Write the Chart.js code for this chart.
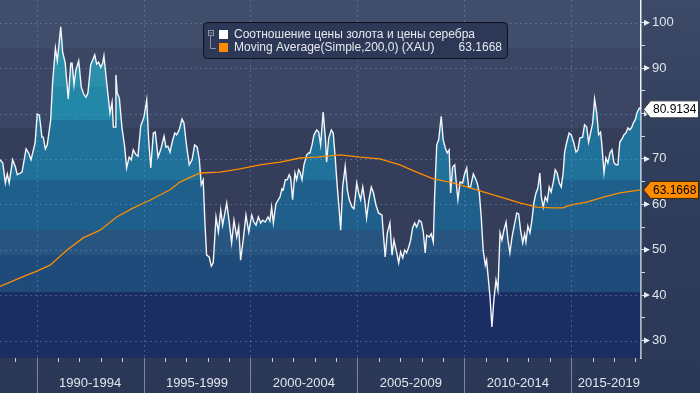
<!DOCTYPE html>
<html>
<head>
<meta charset="utf-8">
<script src="https://cdn.jsdelivr.net/npm/chart.js@4/dist/chart.umd.min.js"></script>
<style>
  html, body { margin: 0; padding: 0; background: #2c3957; }
  canvas { display: block; }
</style>
</head>
<body>
<canvas id="chart" width="700" height="393"></canvas>
<script>
// gold / silver price ratio (decimal years)
const years = [
  1988.29, 1988.42, 1988.54, 1988.63, 1988.72, 1988.88, 1989.01, 1989.10, 1989.32, 1989.51, 1989.63, 1989.74, 1989.93,
  1990.03, 1990.13, 1990.25, 1990.31, 1990.41, 1990.50, 1990.66, 1990.75, 1990.88, 1990.97,
  1991.13, 1991.22, 1991.34, 1991.48, 1991.60, 1991.66, 1991.75, 1991.84, 1991.97,
  1992.09, 1992.22, 1992.31, 1992.40, 1992.53, 1992.72, 1992.81, 1992.90,
  1993.00, 1993.09, 1993.15, 1993.28, 1993.43, 1993.53, 1993.59, 1993.68, 1993.71, 1993.77, 1993.87, 1993.99,
  1994.12, 1994.21, 1994.33, 1994.43, 1994.52, 1994.65, 1994.74, 1994.87,
  1995.02, 1995.15, 1995.24, 1995.34, 1995.46, 1995.55, 1995.68, 1995.80, 1995.96,
  1996.05, 1996.14, 1996.24, 1996.33, 1996.46, 1996.55, 1996.67, 1996.80, 1996.89,
  1997.02, 1997.14, 1997.27, 1997.39, 1997.51, 1997.61, 1997.70, 1997.79, 1997.87, 1997.95,
  1998.07, 1998.17, 1998.26, 1998.39, 1998.50, 1998.61, 1998.70, 1998.89,
  1999.01, 1999.12, 1999.23, 1999.36, 1999.45, 1999.54, 1999.66, 1999.79, 1999.92,
  2000.06, 2000.16, 2000.26, 2000.37, 2000.48, 2000.57, 2000.69, 2000.82, 2000.91, 2000.99,
  2001.07, 2001.19, 2001.30, 2001.38, 2001.47, 2001.53, 2001.63, 2001.72, 2001.81, 2001.88, 2001.97,
  2002.08, 2002.16, 2002.25, 2002.32, 2002.41, 2002.50, 2002.63, 2002.72, 2002.78, 2002.88, 2002.97,
  2003.10, 2003.19, 2003.28, 2003.40, 2003.50, 2003.56, 2003.66, 2003.78, 2003.87, 2003.96,
  2004.06, 2004.15, 2004.22, 2004.31, 2004.43, 2004.53, 2004.62, 2004.75, 2004.84, 2004.97,
  2005.06, 2005.15, 2005.25, 2005.34, 2005.43, 2005.53, 2005.65, 2005.74, 2005.87, 2005.99,
  2006.15, 2006.21, 2006.30, 2006.40, 2006.52, 2006.62, 2006.71, 2006.84, 2006.93,
  2007.02, 2007.12, 2007.21, 2007.30, 2007.40, 2007.49, 2007.58, 2007.68, 2007.77, 2007.89, 2007.99,
  2008.08, 2008.17, 2008.24, 2008.36, 2008.45, 2008.55, 2008.61, 2008.71, 2008.80, 2008.92,
  2009.01, 2009.11, 2009.20, 2009.29, 2009.36, 2009.45, 2009.55, 2009.64, 2009.70, 2009.80, 2009.92,
  2010.01, 2010.11, 2010.20, 2010.29, 2010.42, 2010.51, 2010.60, 2010.70, 2010.79, 2010.88, 2010.98,
  2011.04, 2011.14, 2011.20, 2011.29, 2011.38, 2011.48, 2011.57, 2011.67, 2011.76, 2011.85, 2011.95,
  2012.04, 2012.13, 2012.23, 2012.32, 2012.45, 2012.54, 2012.63, 2012.73, 2012.82, 2012.88, 2012.97,
  2013.07, 2013.16, 2013.25, 2013.35, 2013.44, 2013.53, 2013.60, 2013.69, 2013.78, 2013.88, 2013.97,
  2014.06, 2014.16, 2014.25, 2014.34, 2014.44, 2014.53, 2014.62, 2014.69, 2014.78, 2014.90,
  2015.00, 2015.12, 2015.22, 2015.31, 2015.40, 2015.53, 2015.62, 2015.72, 2015.81, 2015.91,
  2016.00, 2016.09, 2016.19, 2016.28, 2016.37, 2016.43, 2016.53, 2016.62, 2016.71, 2016.81, 2016.90,
  2017.00, 2017.09, 2017.18, 2017.27, 2017.37, 2017.46, 2017.55, 2017.65, 2017.74, 2017.83, 2017.90, 2017.99,
  2018.08, 2018.18, 2018.24
]
const ratio = [
  69.8, 69.1, 64.7, 66.7, 64.7, 69.8, 68.2, 66.5, 67.1, 72.2, 71.3, 69.8, 73.5,
  79.9, 79.7, 74.8, 74.8, 72.2, 73.1, 78.6, 86.9, 94.4, 91.6,
  99.1, 93.5, 91.1, 83.2, 91.1, 91.1, 86.3, 89.6, 91.6,
  85.8, 84.1, 83.6, 84.5, 90.7, 92.9, 90.9, 91.3,
  90.2, 91.1, 92.7, 86.7, 80.1, 82.5, 77.0, 77.0, 88.5, 84.5, 83.4, 77.0,
  72.6, 68.0, 70.4, 69.8, 72.0, 70.9, 70.6, 77.2,
  79.2, 83.0, 74.2, 68.0, 75.7, 75.9, 70.4, 72.0, 75.0,
  72.6, 72.8, 71.5, 73.5, 75.7, 75.3, 76.4, 78.8, 77.9,
  72.6, 68.7, 69.8, 73.1, 72.6, 69.8, 64.3, 65.4, 56.1, 48.8,
  48.4, 46.4, 47.1, 57.2, 53.9, 58.7, 55.4, 60.3,
  55.9, 51.5, 56.5, 52.8, 55.0, 47.7, 52.1, 57.6, 53.9,
  57.6, 56.1, 55.4, 57.2, 55.9, 56.5, 56.1, 57.2, 56.3, 59.4,
  55.9, 60.1, 61.0, 61.6, 63.4, 63.2, 65.4, 65.4, 66.5, 65.8, 61.0,
  66.9, 65.4, 67.6, 67.1, 65.4, 68.7, 70.9, 71.3, 71.3, 73.1, 75.3,
  76.4, 75.9, 73.1, 80.3, 74.8, 69.3, 74.6, 76.4, 75.7, 70.4,
  63.8, 58.7, 54.3, 63.8, 68.4, 63.2, 61.0, 59.4, 59.0, 64.7,
  62.5, 61.0, 63.8, 61.0, 57.0, 60.7, 63.8, 62.7, 59.8, 58.1,
  57.6, 53.7, 48.4, 53.7, 55.9, 48.8, 52.1, 49.3, 47.1,
  49.5, 48.2, 49.9, 49.3, 50.6, 52.1, 54.8, 55.9, 55.0, 56.5, 56.1,
  53.9, 49.3, 53.2, 52.8, 53.5, 51.7, 61.6, 73.1, 74.2, 79.4,
  74.2, 72.4, 71.3, 72.0, 62.5, 68.2, 68.7, 63.8, 61.0, 64.9, 64.7,
  66.7, 68.0, 63.8, 63.8, 66.7, 65.8, 64.7, 62.5, 57.2, 49.9, 46.6,
  47.7, 42.7, 39.6, 33.0, 38.9, 43.3, 41.1, 53.7, 52.1, 54.3, 56.1,
  52.1, 49.3, 52.8, 55.0, 58.1, 57.9, 54.3, 51.5, 53.5, 51.7, 55.2,
  53.7, 56.5, 60.3, 62.5, 63.6, 66.9, 61.6, 59.4, 61.6, 60.7, 63.8,
  62.7, 64.9, 67.6, 66.9, 64.7, 63.8, 66.9, 71.5, 73.5, 75.7,
  75.3, 73.5, 71.5, 72.0, 74.6, 74.8, 77.5, 77.0, 73.7, 75.9,
  77.9, 83.2, 80.1, 75.3, 75.9, 73.1, 66.9, 70.2, 69.1, 71.3, 72.0,
  69.1, 68.7, 68.7, 73.7, 74.4, 75.3, 75.7, 76.8, 76.4, 77.0, 77.9, 78.6,
  80.3, 81.2, 80.9134
]

// 200-period simple moving average
const maYears = [
  1988.29, 1989.23, 1989.93, 1990.63, 1991.41, 1992.18, 1992.97, 1993.75, 1994.52, 1995.30,
  1996.24, 1996.70, 1997.64, 1998.57, 1999.51, 2000.45, 2001.38, 2002.32, 2003.10, 2004.19,
  2005.12, 2006.05, 2006.99, 2007.77, 2008.55, 2009.48, 2010.26, 2011.04, 2011.82, 2012.60,
  2013.38, 2014.16, 2014.62, 2014.94, 2015.72, 2016.50, 2017.27, 2018.24
]
const movingAvg = [
  41.9, 43.8, 45.1, 46.6, 49.9, 52.6, 54.3, 57.2, 59.2, 60.9,
  63.2, 64.9, 66.9, 67.1, 67.8, 68.7, 69.3, 70.2, 70.4, 70.9,
  70.4, 70.0, 68.7, 67.1, 65.6, 64.7, 63.6, 62.5, 61.4, 60.3,
  59.4, 59.2, 59.2, 59.8, 60.5, 61.6, 62.5, 63.1668
]

const periodStarts = [1990, 1995, 2000, 2005, 2010, 2015]
const periodLabels = ['1990-1994', '1995-1999', '2000-2004', '2005-2009', '2010-2014', '2015-2019']
const yLabels = [30, 40, 50, 60, 70, 80, 90, 100]
const seriesNames = ['Соотношение цены золота и цены серебра', 'Moving Average(Simple,200,0) (XAU)']

const FONT = '"Liberation Sans", Arial, sans-serif'
const ORANGE = '#ff8c00'

// shading bands, top to bottom: [lower edge value, colour]
const bgBands = [[94.4, '#414e6b'], [76.8, '#3a4663'], [40.7, '#343e5a'], [null, '#1b2d63']]
const fillBands = [
  [85.8, '#2b8fab'], [78.6, '#2387a8'], [65.4, '#21729b'], [54.3, '#1e608b'],
  [48.8, '#27557f'], [40.7, '#1f4b7b'], [null, '#1b2d63']
]

function bandFill(chart) {
  const { ctx, chartArea: a, scales } = chart
  if (!a) return 'transparent'
  const h = a.bottom - a.top
  const g = ctx.createLinearGradient(0, a.top, 0, a.bottom)
  let f0 = 0
  fillBands.forEach(([lo, col]) => {
    const f1 = lo === null ? 1 : Math.min(1, Math.max(0, (scales.y.getPixelForValue(lo) - a.top) / h))
    g.addColorStop(f0, col)
    g.addColorStop(f1, col)
    f0 = f1
  })
  return g
}

function tag(ctx, py, text, fill, stroke) {
  ctx.beginPath()
  ctx.moveTo(643.5, py)
  ctx.lineTo(650.5, py - 8.5)
  ctx.lineTo(698.5, py - 8.5)
  ctx.lineTo(698.5, py + 8.5)
  ctx.lineTo(650.5, py + 8.5)
  ctx.closePath()
  ctx.fillStyle = fill
  ctx.fill()
  ctx.strokeStyle = stroke
  ctx.lineWidth = 1
  ctx.stroke()
  ctx.fillStyle = '#000'
  ctx.font = '12px ' + FONT
  ctx.textAlign = 'left'
  ctx.textBaseline = 'middle'
  ctx.fillText(text, 653, py + 0.5)
}

const decor = {
  id: 'decor',
  beforeDraw(chart) {
    const { ctx, chartArea: a, scales } = chart
    ctx.save()
    const g = ctx.createLinearGradient(0, 0, 0, chart.height)
    g.addColorStop(0, '#3c4967')
    g.addColorStop(0.4, '#303d5b')
    g.addColorStop(1, '#2a3756')
    ctx.fillStyle = g
    ctx.fillRect(0, 0, chart.width, chart.height)
    let top = a.top
    bgBands.forEach(([lo, col]) => {
      const bot = lo === null ? a.bottom : Math.round(scales.y.getPixelForValue(lo))
      ctx.fillStyle = col
      ctx.fillRect(a.left, top, a.right - a.left, bot - top)
      top = bot
    })
    ctx.restore()
  },
  // grid goes over the area fill but under the lines
  beforeDatasetDraw(chart, args) {
    if (args.index !== 1) return
    const { ctx, chartArea: a, scales: { x, y } } = chart
    ctx.save()
    ctx.strokeStyle = 'rgba(105,160,210,0.42)'
    ctx.lineWidth = 1
    ctx.setLineDash([2, 3])
    yLabels.forEach(v => {
      const py = Math.round(y.getPixelForValue(v)) + 0.5
      ctx.beginPath(); ctx.moveTo(a.left, py); ctx.lineTo(a.right, py); ctx.stroke()
    })
    periodStarts.forEach(s => {
      const px = Math.round(x.getPixelForValue(s)) + 0.5
      ctx.beginPath(); ctx.moveTo(px, a.top); ctx.lineTo(px, a.bottom); ctx.stroke()
    })
    ctx.restore()
  },
  afterDraw(chart) {
    const { ctx, chartArea: a, scales: { x, y } } = chart
    ctx.save()

    // bottom axis: yearly ticks, 5-year separators, period labels
    ctx.lineWidth = 1
    for (let yr = Math.ceil(x.min); yr <= Math.floor(x.max); yr++) {
      const px = Math.round(x.getPixelForValue(yr)) + 0.5
      const major = periodStarts.includes(yr)
      ctx.strokeStyle = major ? '#7d879a' : '#c9cfd9'
      ctx.beginPath(); ctx.moveTo(px, a.bottom); ctx.lineTo(px, major ? chart.height : a.bottom + 4); ctx.stroke()
    }
    ctx.font = '13px ' + FONT
    ctx.fillStyle = '#e1e5ec'
    ctx.textAlign = 'center'
    ctx.textBaseline = 'middle'
    periodStarts.forEach((s, i) => {
      const x0 = x.getPixelForValue(s)
      const x1 = x.getPixelForValue(s + 5)
      const w = ctx.measureText(periodLabels[i]).width
      const cx = Math.min((x0 + x1) / 2, a.right - 1 - w / 2)
      ctx.fillText(periodLabels[i], cx, 383)
    })

    // right axis arrows at labelled values
    ctx.fillStyle = '#e8ecf2'
    yLabels.forEach(v => {
      const py = y.getPixelForValue(v)
      ctx.beginPath()
      ctx.moveTo(644, py - 3); ctx.lineTo(650, py); ctx.lineTo(644, py + 3)
      ctx.closePath(); ctx.fill()
    })

    // last value tags
    const lastMa = movingAvg[movingAvg.length - 1]
    const lastRatio = ratio[ratio.length - 1]
    tag(ctx, y.getPixelForValue(lastRatio), lastRatio.toFixed(4), '#ffffff', '#30343c')
    tag(ctx, y.getPixelForValue(lastMa), lastMa.toFixed(4), ORANGE, '#3a2400')

    // legend box
    ctx.beginPath()
    ctx.roundRect(203.5, 22.5, 304, 36, 4)
    ctx.fillStyle = '#2c3856'
    ctx.fill()
    ctx.strokeStyle = '#0d1119'
    ctx.stroke()
    ctx.strokeStyle = '#8c94a4'
    ctx.strokeRect(208.5, 30.5, 5, 5)
    ctx.beginPath()
    ctx.moveTo(209.5, 33); ctx.lineTo(212.5, 33)
    ctx.moveTo(210.5, 36); ctx.lineTo(210.5, 48.5); ctx.lineTo(216, 48.5)
    ctx.stroke()
    ctx.fillStyle = '#ffffff'
    ctx.fillRect(219, 30, 9, 9)
    ctx.fillStyle = ORANGE
    ctx.fillRect(219, 43, 9, 9)
    ctx.font = '12px ' + FONT
    ctx.fillStyle = '#e6e9ef'
    ctx.textAlign = 'left'
    ctx.fillText(seriesNames[0], 234, 35)
    ctx.fillText(seriesNames[1], 234, 48)
    ctx.textAlign = 'right'
    ctx.fillText(lastMa.toFixed(4), 502, 48)
    ctx.restore()
  }
}

new Chart(document.getElementById('chart'), {
  type: 'line',
  data: {
    datasets: [
      {
        label: seriesNames[1],
        data: maYears.map((x, i) => ({ x, y: movingAvg[i] })),
        borderColor: ORANGE,
        borderWidth: 1.3,
        pointRadius: 0,
        fill: false,
        tension: 0
      },
      {
        label: seriesNames[0],
        data: years.map((x, i) => ({ x, y: ratio[i] })),
        borderColor: '#f3f5f9',
        borderWidth: 1.4,
        pointRadius: 0,
        fill: 'start',
        backgroundColor: ctx => bandFill(ctx.chart),
        tension: 0
      }
    ]
  },
  options: {
    responsive: false,
    devicePixelRatio: 1,
    animation: false,
    layout: { padding: 0 },
    scales: {
      x: {
        type: 'linear',
        min: 1988.29,
        max: 2018.26,
        ticks: { display: false },
        grid: { display: false },
        border: { display: false },
        afterFit(s) { s.height = 35; s.paddingLeft = 0; s.paddingRight = 0 }
      },
      y: {
        type: 'linear',
        position: 'right',
        min: 26.15,
        max: 105,
        afterBuildTicks(s) {
          const t = []
          for (let v = 30; v <= 100; v += 5) t.push({ value: v })
          s.ticks = t
        },
        ticks: {
          autoSkip: false,
          padding: 7,
          color: '#dfe4ec',
          font: { family: FONT, size: 13 },
          callback: v => (yLabels.includes(v) ? String(v) : '')
        },
        grid: { drawOnChartArea: false, tickLength: 4, tickColor: '#d6dbe4' },
        border: { color: '#eef1f5', width: 1.5 },
        afterFit(s) { s.width = 59; s.paddingTop = 0; s.paddingBottom = 0 }
      }
    },
    plugins: {
      legend: { display: false },
      tooltip: { enabled: false }
    }
  },
  plugins: [decor]
})
</script>
</body>
</html>
